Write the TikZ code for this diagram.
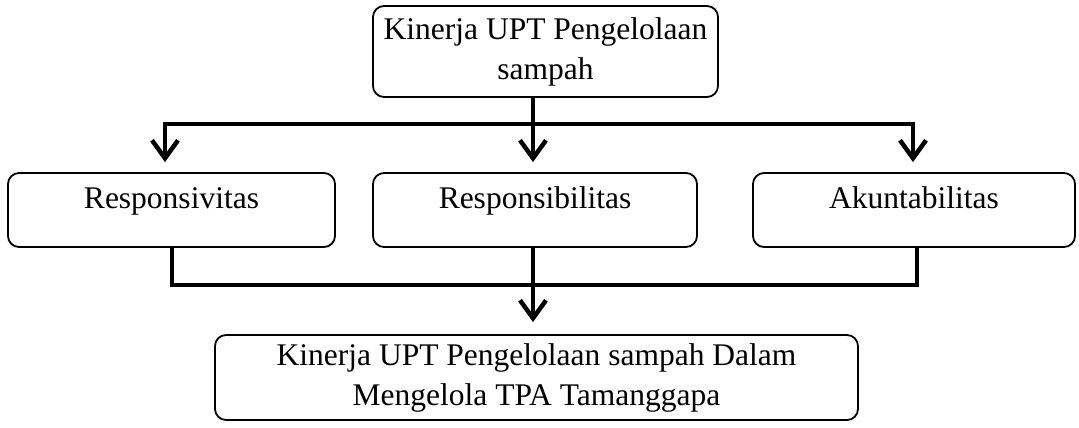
\documentclass[tikz,border=0pt]{standalone}
\usepackage{fontspec}
\setmainfont{Liberation Serif}
\usetikzlibrary{arrows.meta}

\begin{document}
\begin{tikzpicture}[%
      x=1pt, y=-1pt,
      kotak/.style={draw, line width=1.8pt, rounded corners=11pt, align=center,
        inner sep=0pt, font=\fontsize{31.5}{40}\selectfont},
      aspek/.style={kotak, text height=35pt, text depth=39pt},
      garis/.style={line width=4.5pt},
      panah/.style={garis, -{Straight Barb[length=18pt,width=26pt]}, shorten >=10pt},
      ]
      \useasboundingbox (0,0) rectangle (1079,428);

      \node [kotak, minimum width=345pt, minimum height=91pt] (kinerja) at (545.5,51.5) {Kinerja UPT Pengelolaan\\sampah};

      \node [aspek, minimum width=327pt] (responsivitas) at (171.5,210) {Responsivitas};
      \node [aspek, minimum width=324pt] (responsibilitas) at (535,210) {Responsibilitas};
      \node [aspek, minimum width=322pt] (akuntabilitas) at (914,210) {Akuntabilitas};

      \node [kotak, minimum width=643pt, minimum height=85pt] (hasil) at (536.5,377.5) {Kinerja UPT Pengelolaan sampah Dalam\\Mengelola TPA Tamanggapa};

      % cabang ke tiga aspek
      \coordinate (bagi) at (533,124);
      \coordinate (kiri) at (165,124);
      \coordinate (kanan) at (913,124);
      \draw [garis] (kinerja.south -| bagi) -- (bagi);
      \draw [panah] (bagi) -- (kiri) -- (responsivitas.north -| kiri);
      \draw [panah] (bagi) -- (kanan) -- (akuntabilitas.north -| kanan);
      \draw [panah] (bagi) -- (responsibilitas.north -| bagi);

      % gabungan ke hasil
      \coordinate (gabungkiri) at (172,285);
      \coordinate (gabungkanan) at (917,285);
      \coordinate (gabung) at (533,285);
      \draw [garis] (responsivitas.south -| gabungkiri) -- (gabungkiri) -- (gabungkanan) -- (akuntabilitas.south -| gabungkanan);
      \draw [panah, shorten >=12pt] (responsibilitas.south -| gabung) -- (hasil.north -| gabung);
\end{tikzpicture}
\end{document}
